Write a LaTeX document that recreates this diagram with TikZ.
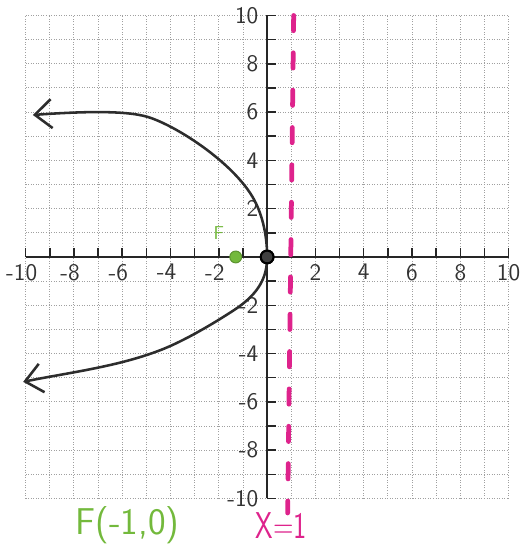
\documentclass[tikz,border=0pt]{standalone}
\usepackage{tikz}
\usetikzlibrary{arrows.meta}
\usetikzlibrary{positioning}
\definecolor{GridGray}{RGB}{160,160,160}
\definecolor{CurveBlack}{RGB}{45,45,45}
\definecolor{DirMagenta}{RGB}{222,35,140}
\definecolor{FocGreen}{RGB}{115,185,60}
\tikzset{
	gridln/.style={draw=GridGray, densely dotted, line width=0.5pt},
	ax/.style={line width=1.1pt, draw=black!85},
	tk/.style={line width=0.9pt, draw=black!85},
	curve/.style={line width=1.5pt, draw=CurveBlack, {Straight Barb[length=3.5mm,width=6mm]}-{Straight Barb[length=3.5mm,width=6mm]}},
	dirx/.style={line width=2.8pt, draw=DirMagenta, line cap=round, dash pattern=on 9pt off 13pt},
	num/.style={font=\sffamily\fontsize{14}{16}\selectfont, text=black!80, inner sep=1pt},
	vtx/.style={circle, fill=black!75, draw=black, line width=1.2pt, minimum size=7.5pt, inner sep=0pt},
	foc/.style={circle, fill=FocGreen, draw=FocGreen!80!black, line width=0.6pt, minimum size=7pt, inner sep=0pt},
	hand/.style={font=\sffamily\fontsize{22}{24}\selectfont, inner sep=1pt}
}

\begin{document}
\begin{tikzpicture}[x=0.5cm, y=0.5cm]
		\useasboundingbox (-11.06,-12.05) rectangle (10.52,10.64);
		\draw[gridln, step=0.5cm] (-10,-10) grid (10,10);
		\draw[ax] (-10,0) -- (10,0);
		\draw[ax] (0,-10) -- (0,10);
		\foreach \i in {-10,...,10} {
			\draw[tk] (\i,0) -- (\i,0.38);
			\draw[tk] (0,\i) -- (0.38,\i);
		}
		\foreach \i in {2,4,...,10} {
			\node[num, anchor=north] (xp\i) at (\i,-0.22) {\i};
			\node[num, anchor=north] (xm\i) at (-\i,-0.22) {\llap{-}\i};
			\node[num, anchor=east] (yp\i) at (-0.28,\i) {\i};
			\node[num, anchor=east] (ym\i) at (-0.28,-\i) {-\i};
		}
		\coordinate (dtop) at (1.1,10);
		\coordinate (dbot) at (0.85,-10.6);
		\draw[dirx] (dtop) -- (dbot);
		\node[vtx] (V) at (0,0) {};
		\coordinate (tipU) at (-9.7,5.88);
		\coordinate (tipL) at (-10.1,-5.17);
		\draw[curve] (tipU) .. controls (-8,6.0) and (-5.95,6.1) .. (-4.95,5.8)
			.. controls (-3.75,5.44) and (-1.2,3.8) .. (-0.45,2.2)
			.. controls (-0.15,1.55) and (0,0.8) .. (V.center)
			.. controls (0,-0.8) and (-0.3,-1.5) .. (-1.37,-2.2)
			.. controls (-2.4,-2.87) and (-3.5,-3.5) .. (-4.4,-3.85)
			.. controls (-6.2,-4.55) and (-8.3,-4.8) .. (tipL);
		\node[vtx] at (V) {};
		\node[foc] (F) at (-1.3,0) {};
		\node[text=FocGreen, font=\sffamily\fontsize{11}{12}\selectfont, inner sep=0pt] (Flab) at (-2.0,1.0) {F};
		\node[hand, text=FocGreen] (Fpt) at (-5.78,-11.1) {F(-1,0)};
		\node[hand, text=DirMagenta, xscale=0.75] (dlab) at (0.58,-11.1) {X=1};
	\end{tikzpicture}
\end{document}
